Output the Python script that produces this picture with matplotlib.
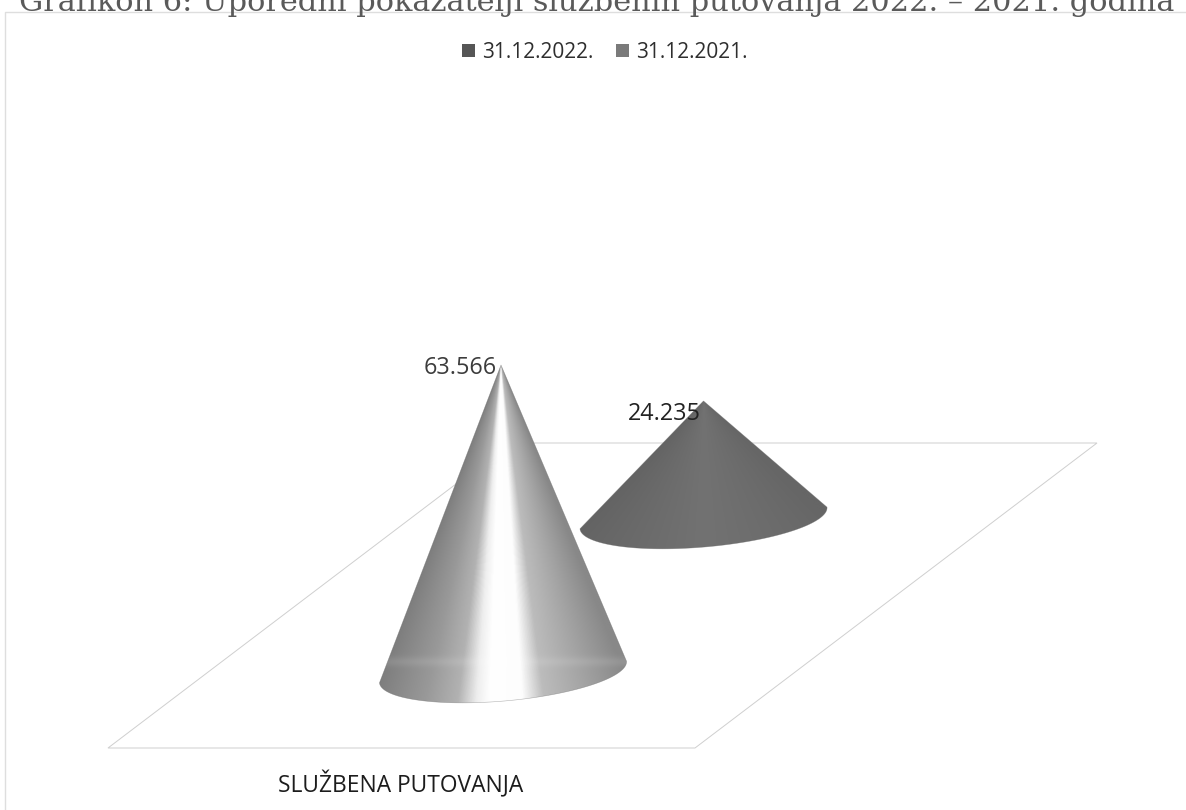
import numpy as np
import matplotlib
matplotlib.use("Agg")
import matplotlib.pyplot as plt
from matplotlib.colors import LinearSegmentedColormap
from matplotlib.patches import Patch, Polygon

title = "Grafikon 6: Uporedni pokazatelji službenih putovanja 2022. – 2021. godina"
category = "SLUŽBENA PUTOVANJA"
series_names = ["31.12.2022.", "31.12.2021."]
series_values = [63.566, 24.235]
value_labels = ["63.566", "24.235"]
legend_colors = ["#565656", "#7a7a7a"]

PX_PER_UNIT = 4.83
FLOOR = [(108, 748), (695, 748), (1097, 443), (510, 443)]
BASES = [(503, 672), (703.5, 518)]
SEMI_A, SEMI_B, TILT = 124, 29, np.radians(5.0)

fig = plt.figure(figsize=(11.86, 8.10), dpi=100)
ax = fig.add_axes([0, 0, 1, 1])
ax.set_xlim(0, 1186)
ax.set_ylim(810, 0)
ax.axis("off")

# page caption, cut by the top of the scan
ax.text(597, 11, title, family="DejaVu Serif", fontsize=21.9, color="#5a5a5a",
        ha="center", va="baseline", clip_on=True)
# chart frame
ax.plot([5, 5, 1186], [810, 12, 12], color="#dedede", lw=1.0)
# floor
ax.add_patch(Polygon(FLOOR, closed=True, fill=False, ec="#cfcfcf", lw=0.7))

cmap_light = LinearSegmentedColormap.from_list("c1", [
    (0.00, "#7a7a7a"), (0.22, "#999999"), (0.34, "#b2b2b2"), (0.41, "#eeeeee"),
    (0.46, "#ffffff"), (0.58, "#fdfdfd"), (0.66, "#bcbcbc"), (0.82, "#a4a4a4"),
    (1.00, "#888888")])
cmap_dark = LinearSegmentedColormap.from_list("c2", [
    (0.00, "#626262"), (0.5, "#727272"), (1.00, "#666666")])


def draw_cone(value, base, cmap, rim, z):
    cx, cy = base
    height = value * PX_PER_UNIT
    ax_, ay_ = cx - 2 * (height > 200), cy - height
    u = np.array([np.cos(TILT), -np.sin(TILT)])
    v = np.array([np.sin(TILT), np.cos(TILT)])
    t = np.linspace(0, np.pi, 120)
    arc = np.array([cx, cy]) + np.outer(SEMI_A * np.cos(t), u) + np.outer(SEMI_B * np.sin(t), v)
    outline = np.vstack([[ax_, ay_], arc])
    x0, x1 = cx - SEMI_A - 4, cx + SEMI_A + 4
    y0, y1 = ay_ - 2, cy + SEMI_B + 8
    xs, ys = np.meshgrid(np.linspace(x0, x1, 400), np.linspace(y0, y1, 600))
    frac = np.clip((ys - ay_) / height, 0.01, None)
    s = np.clip((xs - ax_) / (SEMI_A * frac) * 0.5 + 0.5, 0, 1)
    img = cmap(s)[..., :3]
    if rim:
        band = np.exp(-((ys - (cy - 10)) / 5.0) ** 2) * 0.10
        img = img + band[..., None] * (1 - img)
    im = ax.imshow(img, extent=[x0, x1, y1, y0], aspect="auto", zorder=z, interpolation="bilinear")
    clip = Polygon(outline, closed=True, transform=ax.transData, fc="none", ec="none")
    ax.add_patch(clip)
    im.set_clip_path(clip)
    ax.add_patch(Polygon(outline, closed=True, fill=False, ec="#6a6a6a", lw=0.4, zorder=z + 0.1, alpha=0.5))
    return ax_, ay_


a2 = draw_cone(series_values[1], BASES[1], cmap_dark, False, 3)
a1 = draw_cone(series_values[0], BASES[0], cmap_light, True, 4)
ax.set_xlim(0, 1186)
ax.set_ylim(810, 0)

ax.text(a1[0] - 4, a1[1] + 3, value_labels[0], family="Open Sans", fontsize=16.8, color="#3c3c3c",
        ha="right", va="center", zorder=6)
ax.text(a2[0] - 3, a2[1] + 13, value_labels[1], family="Open Sans", fontsize=16.8, color="#222222",
        ha="right", va="center", zorder=6)
ax.text(401, 785, category, family="Open Sans", fontsize=16.4, color="#1c1c1c", ha="center", va="center")

handles = [Patch(fc=c, ec="none", label=n) for c, n in zip(legend_colors, series_names)]
leg = ax.legend(handles=handles, ncols=2, frameon=False, loc="center",
                bbox_to_anchor=(605, 52), bbox_transform=ax.transData,
                prop={"family": "Open Sans", "size": 15},
                handlelength=0.6, handleheight=0.6, handletextpad=0.35, columnspacing=1.1,
                labelcolor="#2e2e2e")

fig.savefig("out.png", dpi=100, facecolor="white")
